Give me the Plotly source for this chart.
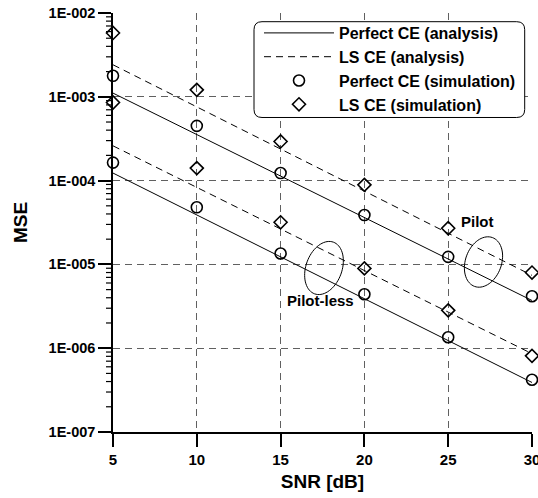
import numpy as np
import plotly.graph_objects as go

# ---- data ----
snr_db = [5, 10, 15, 20, 25, 30]

perfect_pilot_analysis = [1.107e-3, 3.54e-4, 1.133e-4, 3.62e-5, 1.16e-5, 3.71e-6]
ls_pilot_analysis = [2.41e-3, 7.6e-4, 2.39e-4, 7.5e-5, 2.36e-5, 7.4e-6]
perfect_pilotless_analysis = [1.23e-4, 3.9e-5, 1.23e-5, 3.9e-6, 1.23e-6, 3.9e-7]
ls_pilotless_analysis = [2.6e-4, 8.3e-5, 2.64e-5, 8.4e-6, 2.68e-6, 8.6e-7]

perfect_pilot_sim = [1.78e-3, 4.5e-4, 1.23e-4, 3.88e-5, 1.23e-5, 4.17e-6]
perfect_pilotless_sim = [1.64e-4, 4.8e-5, 1.35e-5, 4.4e-6, 1.35e-6, 4.2e-7]
ls_pilot_sim = [5.78e-3, 1.21e-3, 2.93e-4, 8.9e-5, 2.7e-5, 8.0e-6]
ls_pilotless_sim = [8.55e-4, 1.41e-4, 3.18e-5, 8.95e-6, 2.83e-6, 8.1e-7]

x_ticks = [5, 10, 15, 20, 25, 30]
y_tickvals = [1e-7, 1e-6, 1e-5, 1e-4, 1e-3, 1e-2]
y_ticktext = ["1E-007", "1E-006", "1E-005", "1E-004", "1E-003", "1E-002"]

# ---- style ----
FONT = "Liberation Sans, Arial, sans-serif"
W, H = 538, 498
ML, MR, MT, MB = 113, 6, 13, 66
PW = W - ML - MR
PH = H - MT - MB
Y_LOG_RANGE = [-7, -2]

# minor tick positions (2..9 within each decade)
y_minor_ticks = [k * d for d in y_tickvals[:-1] for k in range(2, 10)]

fig = go.Figure()

line_solid = dict(color="black", width=1)
line_dash = dict(color="black", width=1, dash="7px,5px")

fig.add_trace(go.Scatter(x=snr_db, y=perfect_pilot_analysis, mode="lines", line=line_solid,
                         name="Perfect CE (analysis)", legendgroup="pa"))
fig.add_trace(go.Scatter(x=snr_db, y=perfect_pilotless_analysis, mode="lines", line=line_solid,
                         name="Perfect CE (analysis)", legendgroup="pa", showlegend=False))
fig.add_trace(go.Scatter(x=snr_db, y=ls_pilot_analysis, mode="lines", line=line_dash,
                         name="LS CE (analysis)", legendgroup="la"))
fig.add_trace(go.Scatter(x=snr_db, y=ls_pilotless_analysis, mode="lines", line=line_dash,
                         name="LS CE (analysis)", legendgroup="la", showlegend=False))

circ = dict(symbol="circle-open", size=11, color="black", line=dict(width=1.6, color="black"))
diam = dict(symbol="diamond-open", size=10, color="black", line=dict(width=1.6, color="black"))

fig.add_trace(go.Scatter(x=snr_db, y=perfect_pilot_sim, mode="markers", marker=circ,
                         name="Perfect CE (simulation)", legendgroup="ps", cliponaxis=False))
fig.add_trace(go.Scatter(x=snr_db, y=perfect_pilotless_sim, mode="markers", marker=circ,
                         name="Perfect CE (simulation)", legendgroup="ps", showlegend=False,
                         cliponaxis=False))
fig.add_trace(go.Scatter(x=snr_db, y=ls_pilot_sim, mode="markers", marker=diam,
                         name="LS CE (simulation)", legendgroup="ls", cliponaxis=False))
fig.add_trace(go.Scatter(x=snr_db, y=ls_pilotless_sim, mode="markers", marker=diam,
                         name="LS CE (simulation)", legendgroup="ls", showlegend=False,
                         cliponaxis=False))


def px2paper(xp, yp):
    return (xp - ML) / PW, (H - MB - yp) / PH


def ellipse_path(cx_px, cy_px, a, b, tilt_deg, n=72):
    """Tilted ellipse outline in paper coords; cx/cy are page pixel positions."""
    th = np.deg2rad(tilt_deg)
    t = np.linspace(0, 2 * np.pi, n, endpoint=False)
    ex = b * np.cos(t)
    ey = a * np.sin(t)  # up
    xr = ex * np.cos(th) + ey * np.sin(th)
    yr = -ex * np.sin(th) + ey * np.cos(th)
    px = (cx_px - ML + xr) / PW
    py = (H - MB - cy_px + yr) / PH
    pts = [f"{'M' if i == 0 else 'L'}{px[i]:.5f},{py[i]:.5f}" for i in range(n)]
    return " ".join(pts) + " Z"


def rounded_rect_path(x0, y0, x1, y1, r):
    """Rounded rectangle in paper coords from page pixel corners (x0,y0 top-left)."""
    def P(x, y):
        a, b = px2paper(x, y)
        return f"{a:.5f},{b:.5f}"
    return (f"M{P(x0 + r, y0)} L{P(x1 - r, y0)} Q{P(x1, y0)} {P(x1, y0 + r)} "
            f"L{P(x1, y1 - r)} Q{P(x1, y1)} {P(x1 - r, y1)} "
            f"L{P(x0 + r, y1)} Q{P(x0, y1)} {P(x0, y1 - r)} "
            f"L{P(x0, y0 + r)} Q{P(x0, y0)} {P(x0 + r, y0)} Z")


shapes = [
    dict(type="path", xref="paper", yref="paper", path=ellipse_path(324, 268, 27.5, 18, 20),
         line=dict(color="black", width=1)),
    dict(type="path", xref="paper", yref="paper", path=ellipse_path(483.5, 262, 26, 18, 20),
         line=dict(color="black", width=1)),
    dict(type="path", xref="paper", yref="paper", layer="above",
         path=rounded_rect_path(254, 21.7, 524.7, 117.5, 8),
         line=dict(color="black", width=1), fillcolor="white"),
]

# minor ticks on the log y axis (drawn as short outside tick marks)
for v in y_minor_ticks:
    yp = (np.log10(v) - Y_LOG_RANGE[0]) / (Y_LOG_RANGE[1] - Y_LOG_RANGE[0])
    shapes.append(dict(type="line", xref="paper", yref="paper", x0=-7.0 / PW, x1=0,
                       y0=yp, y1=yp, line=dict(color="black", width=1.2), layer="above"))

annotations = [
    dict(text="Pilot", x=(495.5 - ML) / PW, y=(H - MB - 221) / PH, xref="paper", yref="paper",
         showarrow=False, font=dict(family=FONT, size=15, color="black", weight="bold")),
    dict(text="Pilot-less", x=(320.5 - ML) / PW, y=(H - MB - 311) / PH, xref="paper", yref="paper",
         showarrow=False, font=dict(family=FONT, size=15, color="black", weight="bold")),
]

grid_kw = dict(showgrid=True, gridcolor="#606060", gridwidth=1.3, griddash="7px,5px")

fig.update_layout(
    width=W, height=H,
    margin=dict(l=ML, r=MR, t=MT, b=MB, autoexpand=False),
    paper_bgcolor="white", plot_bgcolor="white",
    font=dict(family=FONT, color="black"),
    shapes=shapes,
    annotations=annotations,
    legend=dict(
        x=(259 - ML) / PW, y=(H - MB - 16) / PH, xanchor="left", yanchor="top",
        bgcolor="rgba(0,0,0,0)", borderwidth=0,
        font=dict(family=FONT, size=16, color="black", weight="bold"),
        itemwidth=70, tracegroupgap=0,
    ),
    xaxis=dict(
        range=[5, 30], tickvals=x_ticks, ticktext=[str(v) for v in x_ticks],
        automargin=False,
        showline=True, linecolor="black", linewidth=1.5,
        ticks="outside", ticklen=13, tickwidth=1.5, tickcolor="black",
        ticklabeloverflow="allow",
        tickfont=dict(family=FONT, size=15, color="black", weight="bold"),
        title=dict(text="SNR [dB]", font=dict(family=FONT, size=19, color="black", weight="bold"),
                   standoff=8),
        zeroline=False, **grid_kw,
    ),
    yaxis=dict(
        type="log", range=Y_LOG_RANGE, tickvals=y_tickvals, ticktext=y_ticktext,
        automargin=False,
        showline=True, linecolor="black", linewidth=1.5,
        ticks="outside", ticklen=13, tickwidth=1.5, tickcolor="black",
        ticklabeloverflow="allow",
        tickfont=dict(family=FONT, size=14.5, color="black", weight="bold"),
        title=dict(text="MSE", font=dict(family=FONT, size=19, color="black", weight="bold"),
                   standoff=16),
        zeroline=False, **grid_kw,
    ),
)

fig.write_html("out.html")
